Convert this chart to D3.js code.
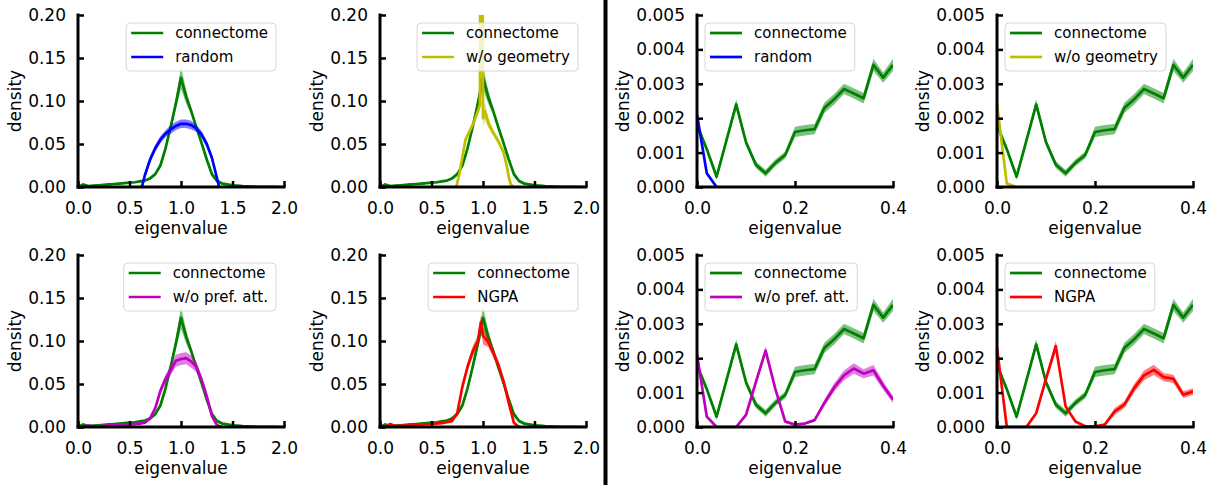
<!DOCTYPE html>
<html>
<head>
<meta charset="utf-8">
<script src="https://cdn.jsdelivr.net/npm/d3@7"></script>
<style>
body { margin: 0; background: #fff; }
svg text { font-family: "DejaVu Sans", sans-serif; fill: #000; }
</style>
</head>
<body>
<svg class="chart" width="1224" height="485"></svg>
<script>

// full spectrum (left block)
var fullX = [0, 0.05, 0.1, 0.15, 0.2, 0.25, 0.3, 0.35, 0.4, 0.45, 0.5, 0.55, 0.6, 0.65, 0.7, 0.75, 0.8, 0.85, 0.9, 0.95,
             1.0, 1.05, 1.1, 1.15, 1.2, 1.25, 1.3, 1.35, 1.4, 1.45, 1.5, 1.55, 1.6, 1.65, 1.7, 1.75, 1.8, 1.85, 1.9, 1.95, 2.0];
var fullConn = [0, 0.003, 0.001, 0.0015, 0.002, 0.0025, 0.003, 0.0035, 0.004, 0.0045, 0.005, 0.0055, 0.0065, 0.0075, 0.010, 0.015, 0.025, 0.045, 0.070, 0.097,
                0.127, 0.105, 0.088, 0.069, 0.051, 0.032, 0.015, 0.007, 0.004, 0.003, 0.002, 0.0015, 0.001, 0.0007, 0.0005, 0.0003, 0.0002, 0.0001, 0.0001, 0, 0];
var fullConnErr = [0.001, 0.001, 0.001, 0.001, 0.001, 0.001, 0.001, 0.001, 0.001, 0.001, 0.001, 0.001, 0.001, 0.001, 0.0015, 0.002, 0.003, 0.004, 0.005, 0.007,
                   0.013, 0.008, 0.004, 0.003, 0.003, 0.003, 0.003, 0.002, 0.0015, 0.001, 0.001, 0.001, 0.001, 0.001, 0.001, 0.001, 0.001, 0.001, 0.001, 0.001, 0.001];

var randX = [0.62, 0.65, 0.7, 0.75, 0.8, 0.85, 0.9, 0.95, 1.0, 1.05, 1.1, 1.15, 1.2, 1.25, 1.3, 1.35, 1.37];
var randY = [0, 0.014, 0.032, 0.045, 0.055, 0.062, 0.067, 0.071, 0.0735, 0.0735, 0.072, 0.068, 0.061, 0.05, 0.034, 0.01, 0];
var randErr = [0.001, 0.003, 0.004, 0.004, 0.004, 0.004, 0.005, 0.005, 0.005, 0.005, 0.005, 0.004, 0.004, 0.004, 0.004, 0.003, 0.001];

var geoX = [0.74, 0.77, 0.8, 0.83, 0.87, 0.91, 0.95, 0.97, 0.98, 0.99, 1.0, 1.02, 1.05, 1.1, 1.15, 1.2, 1.23, 1.25, 1.27, 1.3];
var geoY = [0, 0.015, 0.035, 0.055, 0.065, 0.075, 0.088, 0.095, 0.6, 0.6, 0.08, 0.088, 0.075, 0.063, 0.053, 0.04, 0.025, 0.012, 0.003, 0];
var geoErr = [0.001, 0.003, 0.003, 0.003, 0.003, 0.003, 0.004, 0.005, 0.05, 0.05, 0.01, 0.01, 0.006, 0.004, 0.004, 0.004, 0.003, 0.002, 0.001, 0.001];

var prefX = [0.05, 0.1, 0.15, 0.2, 0.3, 0.4, 0.5, 0.6, 0.65, 0.7, 0.75, 0.8, 0.85, 0.9, 0.95, 1.0, 1.05, 1.1, 1.15, 1.2, 1.25, 1.3, 1.35, 1.4];
var prefY = [0, 0.002, 0.0005, 0.001, 0.002, 0.0025, 0.003, 0.004, 0.005, 0.01, 0.022, 0.042, 0.056, 0.066, 0.077, 0.079, 0.08, 0.076, 0.07, 0.055, 0.036, 0.013, 0.002, 0];
var prefErr = [0.0005, 0.001, 0.001, 0.001, 0.001, 0.001, 0.001, 0.001, 0.001, 0.002, 0.003, 0.004, 0.005, 0.006, 0.007, 0.007, 0.007, 0.007, 0.006, 0.005, 0.004, 0.003, 0.002, 0.0005];

var ngpaX = [0.05, 0.1, 0.15, 0.2, 0.3, 0.4, 0.5, 0.6, 0.7, 0.75, 0.8, 0.85, 0.9, 0.95, 0.98, 1.0, 1.05, 1.1, 1.15, 1.2, 1.25, 1.3, 1.35];
var ngpaY = [0, 0.0035, 0.001, 0.0015, 0.002, 0.003, 0.0035, 0.0045, 0.007, 0.016, 0.047, 0.07, 0.088, 0.1, 0.122, 0.106, 0.099, 0.086, 0.072, 0.053, 0.028, 0.005, 0];
var ngpaErr = [0.0005, 0.001, 0.001, 0.001, 0.001, 0.001, 0.001, 0.001, 0.002, 0.003, 0.004, 0.005, 0.006, 0.006, 0.008, 0.01, 0.006, 0.005, 0.005, 0.004, 0.004, 0.002, 0.0005];

// low end of spectrum (right block)
var lowX = [0, 0.02, 0.04, 0.06, 0.08, 0.1, 0.12, 0.14, 0.16, 0.18, 0.2, 0.22, 0.24, 0.26, 0.28, 0.3, 0.32, 0.34, 0.36, 0.38, 0.4];
var lowConn = [0.0018, 0.0011, 0.0003, 0.00135, 0.0024, 0.0013, 0.00065, 0.0004, 0.0007, 0.00093, 0.0016,
               0.00165, 0.00168, 0.0023, 0.00255, 0.00285, 0.00272, 0.00258, 0.00355, 0.00318, 0.00355];
var lowConnErr = [0.0001, 0.0001, 0.0001, 0.0001, 0.00015, 0.0001, 0.0001, 0.0001, 0.0001, 0.0001, 0.00015,
                  0.00015, 0.00015, 0.00015, 0.00015, 0.00015, 0.00015, 0.00015, 0.00018, 0.00015, 0.00018];

var randLowX = [0, 0.02, 0.04];
var randLowY = [0.0021, 0.0004, 0];
var randLowErr = [0.0001, 0.00005, 0];

var geoLowX = [0, 0.02, 0.04];
var geoLowY = [0.0024, 0.0001, 0];
var geoLowErr = [0.0003, 0.00005, 0];

var prefLow = [0.0021, 0.0003, 0, 0, 0, 0.00035, 0.0013, 0.00222, 0.0011, 0.00016, 0.00007,
               0.0001, 0.0002, 0.0007, 0.00115, 0.0015, 0.0017, 0.00155, 0.00165, 0.0012, 0.0008];
var prefLowErr = [0.0001, 0.00005, 0, 0, 0, 0.00005, 0.0001, 0.00012, 0.00008, 0.00005, 0.00003,
                  0.00003, 0.00005, 0.0001, 0.00012, 0.00014, 0.00015, 0.00013, 0.00015, 0.00012, 0.0001];

var ngpaLow = [0.0023, 0, 0, 0, 0.0004, 0.0014, 0.00235, 0.0006, 0.00016, 0.00002, 0.00002,
               0.00007, 0.00045, 0.00065, 0.00113, 0.0015, 0.00166, 0.00145, 0.0014, 0.00094, 0.00103];
var ngpaLowErr = [0.0002, 0, 0, 0, 0.00005, 0.0001, 0.00015, 0.00005, 0.00003, 0.00001, 0.00001,
                  0.00003, 0.0001, 0.0001, 0.00012, 0.00014, 0.00015, 0.00012, 0.00012, 0.0001, 0.0001];

var fullTicksX = [0, 0.5, 1.0, 1.5, 2.0];
var fullTicksY = [0, 0.05, 0.10, 0.15, 0.20];
var lowTicksX = [0, 0.2, 0.4];
var lowTicksY = [0, 0.001, 0.002, 0.003, 0.004, 0.005];


function series(name, color, xs, ys, es) {
    return { name: name, color: color,
             pts: xs.map(function(d, i) { return { x: d, y: ys[i], e: es[i] }; }) };
}

var connFull = series('connectome', '#008000', fullX, fullConn, fullConnErr);
var connLow = series('connectome', '#008000', lowX, lowConn, lowConnErr);

var full = { dx: [0, 2], dy: [0, 0.2], tx: fullTicksX, ty: fullTicksY, fx: '.1f', fy: '.2f', legRight: true, labOff: 57 };
var low = { dx: [0, 0.4], dy: [0, 0.005], tx: lowTicksX, ty: lowTicksY, fx: '.1f', fy: '.3f', legRight: false, labOff: 68 };

var panels = [
    { left: 78,  top: 15,  w: 206, kind: full, s: [connFull, series('random', '#0000ff', randX, randY, randErr)] },
    { left: 380, top: 15,  w: 206, kind: full, s: [connFull, series('w/o geometry', '#bfbf00', geoX, geoY, geoErr)] },
    { left: 697, top: 15,  w: 196, kind: low,  s: [connLow, series('random', '#0000ff', randLowX, randLowY, randLowErr)] },
    { left: 997, top: 15,  w: 196, kind: low,  s: [connLow, series('w/o geometry', '#bfbf00', geoLowX, geoLowY, geoLowErr)] },
    { left: 78,  top: 255, w: 206, kind: full, s: [connFull, series('w/o pref. att.', '#bf00bf', prefX, prefY, prefErr)] },
    { left: 380, top: 255, w: 206, kind: full, s: [connFull, series('NGPA', '#ff0000', ngpaX, ngpaY, ngpaErr)] },
    { left: 697, top: 255, w: 196, kind: low,  s: [connLow, series('w/o pref. att.', '#bf00bf', lowX, prefLow, prefLowErr)] },
    { left: 997, top: 255, w: 196, kind: low,  s: [connLow, series('NGPA', '#ff0000', lowX, ngpaLow, ngpaLowErr)] }
];

var height = 172;
var chart = d3.select('.chart');

panels.forEach(function(p, n) {
    var k = p.kind;
    var x = d3.scaleLinear().domain(k.dx).range([0, p.w]);
    var y = d3.scaleLinear().domain(k.dy).range([height, 0]);

    var g = chart.append('g').attr('transform', 'translate(' + p.left + ',' + p.top + ')');

    g.append('clipPath').attr('id', 'clip' + n)
        .append('rect').attr('width', p.w).attr('height', height);

    var plot = g.append('g').attr('clip-path', 'url(#clip' + n + ')');

    var area = d3.area()
        .x(function(d) { return x(d.x); })
        .y0(function(d) { return y(d.y - d.e); })
        .y1(function(d) { return y(d.y + d.e); });
    var line = d3.line()
        .x(function(d) { return x(d.x); })
        .y(function(d) { return y(d.y); });

    p.s.forEach(function(s) {
        plot.append('path').attr('d', area(s.pts))
            .attr('fill', s.color).attr('fill-opacity', 0.5);
        plot.append('path').attr('d', line(s.pts))
            .attr('fill', 'none').attr('stroke', s.color)
            .attr('stroke-width', 2.7).attr('stroke-linejoin', 'round');
    });

    // axes, ticks pointing inward
    var xa = g.append('g').attr('transform', 'translate(0,' + height + ')')
        .call(d3.axisBottom(x).tickValues(k.tx).tickFormat(d3.format(k.fx)).tickSize(-6).tickPadding(15));
    var ya = g.append('g')
        .call(d3.axisLeft(y).tickValues(k.ty).tickFormat(d3.format(k.fy)).tickSize(-6).tickPadding(12));
    [xa, ya].forEach(function(a) {
        a.select('.domain').remove();
        a.selectAll('line').attr('stroke', '#000').attr('stroke-width', 2.5);
        a.selectAll('text').style('font-size', '17px').attr('fill', '#000');
    });

    g.append('line').attr('x1', 0).attr('x2', 0).attr('y1', 0).attr('y2', height)
        .attr('stroke', '#000').attr('stroke-width', 3).attr('stroke-linecap', 'square');
    g.append('line').attr('x1', 0).attr('x2', p.w).attr('y1', height).attr('y2', height)
        .attr('stroke', '#000').attr('stroke-width', 3).attr('stroke-linecap', 'square');

    g.append('text')
        .attr('x', p.w / 2).attr('y', height + 47)
        .style('text-anchor', 'middle').style('font-size', '17px')
        .text('eigenvalue');
    g.append('text')
        .attr('transform', 'translate(' + (-k.labOff) + ',' + (height / 2) + ') rotate(-90)')
        .style('text-anchor', 'middle').style('font-size', '17px')
        .text('density');

    // legend
    var leg = g.append('g');
    var box = leg.append('rect').attr('rx', 4).attr('ry', 4)
        .attr('height', 48).attr('fill', '#fff').attr('fill-opacity', 0.8)
        .attr('stroke', '#d6d6d6').attr('stroke-width', 1);
    var tw = 0;
    p.s.forEach(function(s, i) {
        var cy = 10 + 24 * i;
        leg.append('line').attr('x1', 5).attr('x2', 37).attr('y1', cy).attr('y2', cy)
            .attr('stroke', s.color).attr('stroke-width', 2.7);
        var t = leg.append('text').attr('x', 49).attr('y', cy).attr('dy', '0.35em')
            .style('font-size', '15px').text(s.name);
        tw = Math.max(tw, t.node().getComputedTextLength());
    });
    var bw = 49 + tw + 8;
    box.attr('width', bw);
    var lx = k.legRight ? p.w - 8 - bw : 8;
    leg.attr('transform', 'translate(' + lx + ',8)');
});

// divider between the two blocks
chart.append('rect').attr('x', 603.5).attr('y', 0).attr('width', 4).attr('height', 485).attr('fill', '#000');

</script>
</body>
</html>
